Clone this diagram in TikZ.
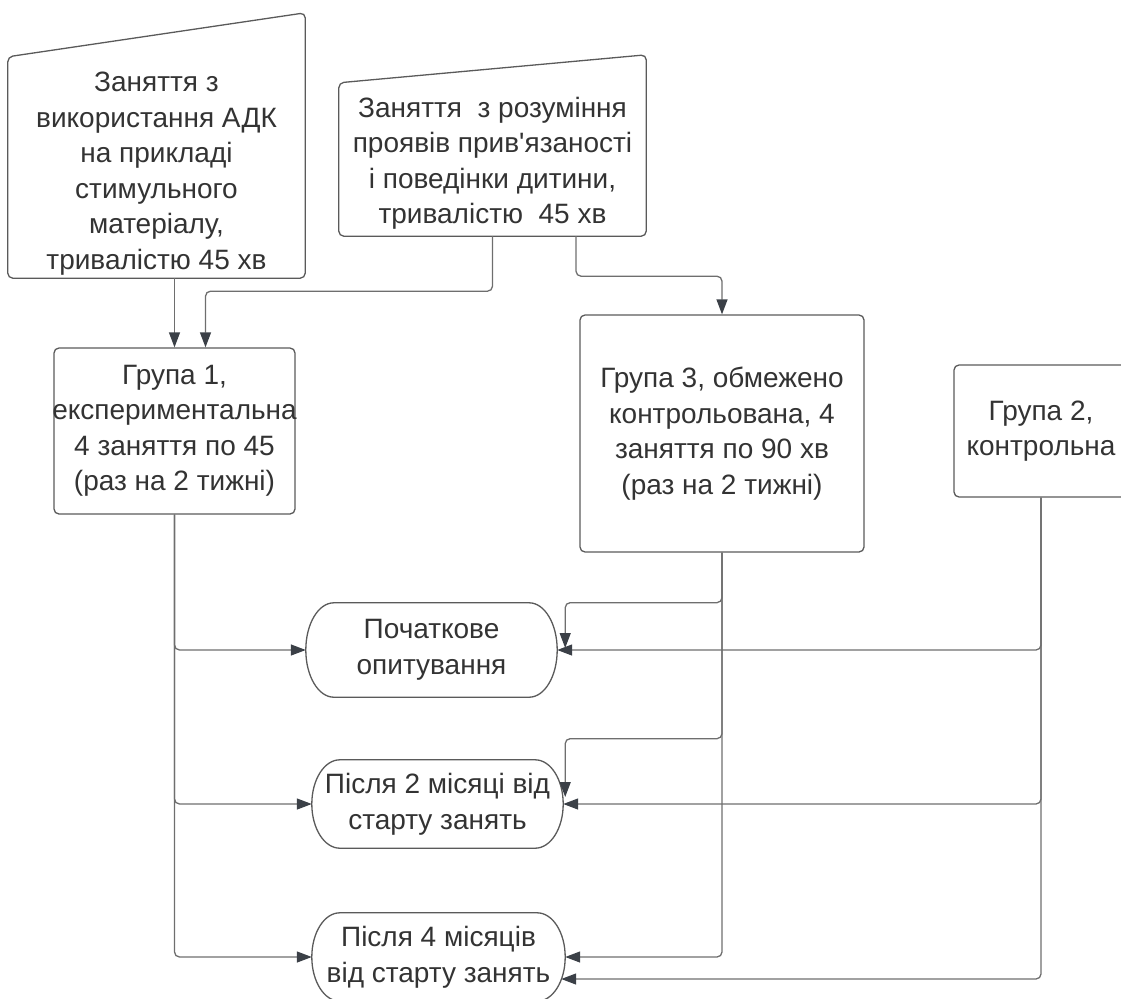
\documentclass[tikz,border=0pt]{standalone}
\usepackage{fontspec}
\setmainfont{Liberation Sans}[Ligatures=TeXOff]
\usetikzlibrary{arrows.meta,calc}
\definecolor{linegray}{HTML}{6E6E6E}
\definecolor{tipgray}{HTML}{3B4047}
\definecolor{textgray}{HTML}{333333}
\definecolor{edgegray}{HTML}{5A5A5A}

\begin{document}
\begin{tikzpicture}[
    x=1pt, y=-1pt,
    every node/.style={font=\fontsize{28}{35.5}\selectfont, text=textgray, inner sep=0pt},
    box/.style={rectangle, draw=edgegray, line width=1.3pt, rounded corners=5pt, align=center},
    plain/.style={align=center},
    outline/.style={draw=edgegray, line width=1.3pt},
    arrow/.style={draw=linegray, line width=1.3pt, rounded corners=5pt, -{Triangle[length=15pt, width=11pt, color=tipgray]}}
]
\useasboundingbox (0,0) rectangle (1121,998);
\clip (0,0) rectangle (1121,998);

% Row 1: Sessions
\node[plain, minimum width=297, minimum height=209] (actA) at (156.5,173.5) {Заняття з\\використання АДК\\на прикладі\\стимульного\\матеріалу,\\тривалістю 45 хв};
\node[plain, minimum width=307, minimum height=145] (actB) at (492.5,163.5) {Заняття~ з розуміння\\проявів прив'язаності\\і поведінки дитини,\\тривалістю~ 45 хв};

\draw[outline, rounded corners=5pt] (actA.south west) -- (actA.south east) -- ([yshift=56]actA.north east) -- ([yshift=12]actA.north west) -- cycle;
\draw[outline, rounded corners=5pt] (actB.south west) -- (actB.south east) -- ([yshift=36]actB.north east) -- ([yshift=8]actB.north west) -- cycle;

% Row 2: Groups
\node[box, minimum width=241, minimum height=166] (g1) at (174.5,431) {Група 1,\\\makebox[0pt]{експериментальна}\\4 заняття по 45\\(раз на 2 тижні)};
\node[box, minimum width=284, minimum height=237] (g3) at (722,433.5) {Група 3, обмежено\\контрольована, 4\\заняття по 90 хв\\(раз на 2 тижні)};
\node[box, minimum width=174, minimum height=132] (g2) at (1041,431) {Група 2,\\контрольна};

% Row 3: Surveys
\node[plain, minimum width=251, minimum height=94] (s1) at (431.5,650) {Початкове\\опитування};
\node[plain, minimum width=251, minimum height=88] (s2) at (437.5,804) {\makebox[0pt]{Після 2 місяці від}\\\makebox[0pt]{старту занять}};
\node[plain, minimum width=253, minimum height=88] (s3) at (438.5,957) {\makebox[0pt]{Після 4 місяців}\\\makebox[0pt]{від старту занять}};

\foreach \s in {s1,s2,s3}
  \draw[outline] let \p1=(\s.north), \p2=(\s.south), \n1={(\y1-\y2)/2} in
    ([xshift=28]\s.north west) -- ([xshift=-28]\s.north east)
    arc[start angle=90, end angle=-90, x radius=28pt, y radius=\n1]
    -- ([xshift=28]\s.south west)
    arc[start angle=270, end angle=90, x radius=28pt, y radius=\n1] -- cycle;

\coordinate (s1in) at ([shift={(8,-2)}]s1.east);
\coordinate (s2in) at ([shift={(2,-7)}]s2.east);
\coordinate (s3low) at ([shift={(-4,22)}]s3.east);

% Arrows - sessions to groups
\draw[arrow] (actA.south -| g1.north) -- (g1.north);
\draw[arrow] (actB.south) -- ++(0,55) -| ([xshift=31]g1.north);
\draw[arrow] ([xshift=83.5]actB.south) -- ++(0,40) -| (g3.north);

% Arrows - groups to surveys
\foreach \s in {s1,s2,s3}
  \draw[arrow] (g1.south) |- (\s.west);
\draw[arrow] (g3.south) -- ++(0,50) -| (s1in);
\draw[arrow] (g3.south) -- ++(0,186) -| (s2in);
\draw[arrow] (g3.south) |- (s3.east);
\draw[arrow] (g2.south) |- (s1.east);
\draw[arrow] (g2.south) |- (s2.east);
\draw[arrow] (g2.south) |- (s3low);

\end{tikzpicture}
\end{document}
